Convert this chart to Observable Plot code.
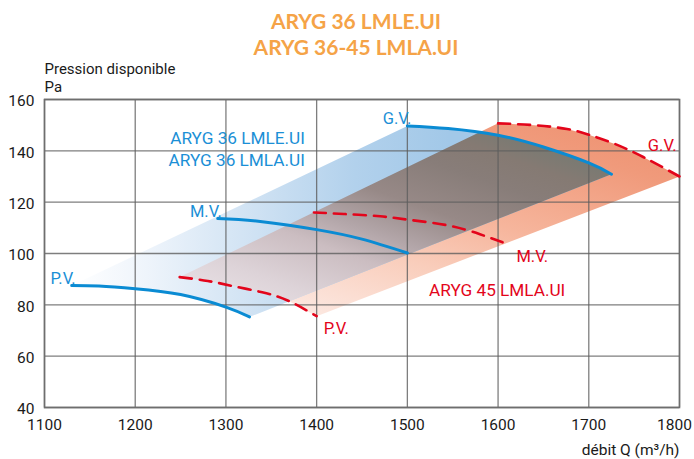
<!DOCTYPE html>
<html>
<head>
<meta charset="utf-8">
<script src="https://cdn.jsdelivr.net/npm/d3@7"></script>
<script src="https://cdn.jsdelivr.net/npm/@observablehq/plot@0.6"></script>
<style>
  html, body { margin: 0; padding: 0; background: #ffffff; }
  #chart svg { display: block; }
</style>
</head>
<body>
<div id="chart"></div>
<script>
// ---- tick values ----
const xTicks = [1100, 1200, 1300, 1400, 1500, 1600, 1700, 1800];
const yTicks = [40, 60, 80, 100, 120, 140, 160];

// ---- ARYG 36 LMLE.UI / ARYG 36 LMLA.UI (blue, solid) [débit m3/h, pression Pa] ----
const bluePV = [[1130, 87.5], [1160, 87.3], [1200, 86.3], [1250, 84.0], [1300, 79.1], [1326, 75.3]];
const blueMV = [[1291, 113.6], [1340, 112.4], [1400, 109.3], [1450, 105.6], [1500, 100.2]];
const blueGV = [[1500, 149.7], [1545, 148.7], [1600, 146.1], [1650, 141.5], [1700, 135.3], [1725, 130.9]];

// ---- ARYG 45 LMLA.UI (red, dashed) ----
const redPV = [[1249, 90.8], [1280, 89.3], [1309, 87.2], [1340, 84.9], [1368, 81.7], [1400, 75.6]];
const redMV = [[1397, 116.0], [1430, 115.4], [1470, 114.5], [1500, 113.2], [1544, 111.0], [1580, 107.5], [1607, 104.1]];
const redGV = [[1600, 150.7], [1640, 150.0], [1676, 148.5], [1700, 146.3], [1728, 142.8], [1760, 137.6], [1800, 130.0]];

// ---- texts ----
const titleLines = ["ARYG 36 LMLE.UI", "ARYG 36-45 LMLA.UI"];
const yLabelLines = ["Pression disponible", "Pa"];
const xLabel = "débit Q (m³/h)";
const speedNames = ["P.V.", "M.V.", "G.V."];
const blueModelNames = ["ARYG 36 LMLE.UI", "ARYG 36 LMLA.UI"];
const blueModelX = [1387, 1387];
const blueModelY = [142.8, 134.0];
const redModelNames = ["ARYG 45 LMLA.UI"];
const redModelX = [1599];
const redModelY = [83.3];

const pts = (a) => a.map(([x, y]) => ({x, y}));
const bluePoly = pts([...blueGV, ...bluePV.slice().reverse()]);
const redPoly = pts([...redGV, ...redPV.slice().reverse()]);

const BLUE = "#0a8bd3";
const BLUE_TXT = "#1b8fd6";
const RED = "#e3051b";
const ORANGE = "#f5a347";
const SANS = "Roboto, 'Noto Sans', sans-serif";

const blueStarts = [bluePV[0], blueMV[0], blueGV[0]].map(([x, y], i) => ({x, y, t: speedNames[i]}));
const redPVEnd = [{x: redPV.at(-1)[0], y: redPV.at(-1)[1], t: speedNames[0]}];
const redMVEnd = [{x: redMV.at(-1)[0], y: redMV.at(-1)[1], t: speedNames[1]}];
const redGVEnd = [{x: redGV.at(-1)[0], y: redGV.at(-1)[1], t: speedNames[2]}];

const tickStyle = {tickSize: 0, tickFormat: (d) => String(d), label: null, fontFamily: SANS, fontSize: 15.5, fill: "#1a1a1a"};

const svg = Plot.plot({
  width: 694,
  height: 459,
  marginLeft: 44,
  marginRight: 15,
  marginTop: 99,
  marginBottom: 52,
  x: {domain: [1100, 1800]},
  y: {domain: [40, 160]},
  style: {fontFamily: SANS, fontSize: "16px", color: "#1a1a1a", background: "#ffffff", overflow: "visible"},
  marks: [
    // zones
    Plot.line(redPoly, {x: "x", y: "y", fill: "url(#redGrad)", stroke: "none"}),
    Plot.line(bluePoly, {x: "x", y: "y", fill: "url(#blueGrad)", stroke: "none"}),
    Plot.line(bluePoly, {x: "x", y: "y", fill: "url(#overlapGrad)", stroke: "none"}),
    // grid
    Plot.gridX(xTicks, {stroke: "#5e5e5e", strokeOpacity: 0.8, strokeWidth: 1.3}),
    Plot.gridY(yTicks, {stroke: "#5e5e5e", strokeOpacity: 0.8, strokeWidth: 1.3}),
    Plot.frame({stroke: "#6e6e6e", strokeWidth: 1.6}),
    // axes
    Plot.axisX(xTicks.slice(0, -1), {...tickStyle, tickPadding: 11}),
    Plot.axisX(xTicks.slice(-1), {...tickStyle, tickPadding: 11, dx: -5}),
    Plot.axisY(yTicks, {...tickStyle, tickPadding: 10, dy: 2}),
    // red dashed curves
    ...[redPV, redMV, redGV].map((c) => Plot.line(pts(c), {x: "x", y: "y", stroke: RED, strokeWidth: 2.6, strokeDasharray: "12,8", curve: "natural"})),
    // blue curves
    ...[bluePV, blueMV, blueGV].map((c) => Plot.line(pts(c), {x: "x", y: "y", stroke: BLUE, strokeWidth: 3, curve: "natural"})),
    // curve labels
    Plot.text(blueStarts, {x: "x", y: "y", text: "t", textAnchor: "end", lineAnchor: "bottom", dx: 4, dy: -2, fill: BLUE_TXT, fontSize: 16.5, fontFamily: SANS}),
    Plot.text(redPVEnd, {x: "x", y: "y", text: "t", textAnchor: "start", lineAnchor: "bottom", dx: 7, dy: 18, fill: RED, fontSize: 16.5, fontFamily: SANS}),
    Plot.text(redMVEnd, {x: "x", y: "y", text: "t", textAnchor: "start", lineAnchor: "bottom", dx: 12, dy: 19, fill: RED, fontSize: 16.5, fontFamily: SANS}),
    Plot.text(redGVEnd, {x: "x", y: "y", text: "t", textAnchor: "end", lineAnchor: "bottom", dx: -3, dy: -26, fill: RED, fontSize: 16.5, fontFamily: SANS}),
    // model labels
    Plot.text(blueModelNames, {x: (d, i) => blueModelX[i], y: (d, i) => blueModelY[i], text: (d) => d, textAnchor: "end", lineAnchor: "bottom", fill: BLUE_TXT, fontSize: 17.2, fontFamily: SANS}),
    Plot.text(redModelNames, {x: (d, i) => redModelX[i], y: (d, i) => redModelY[i], text: (d) => d, textAnchor: "middle", lineAnchor: "bottom", fill: RED, fontSize: 17.2, fontFamily: SANS}),
    // title
    Plot.text([titleLines.join("\n")], {frameAnchor: "top", text: (d) => d, lineAnchor: "bottom", lineHeight: 1.24, dx: -6, dy: -44.5, fill: ORANGE, fontSize: 21, fontWeight: "bold", fontFamily: "Lato, 'Liberation Sans', sans-serif"}),
    // y label
    Plot.text([yLabelLines.join("\n")], {frameAnchor: "top-left", text: (d) => d, textAnchor: "start", lineAnchor: "bottom", lineHeight: 1.15, dy: -8, fill: "#1a1a1a", fontSize: 15, fontFamily: SANS}),
    // x label
    Plot.text([xLabel], {frameAnchor: "bottom-right", text: (d) => d, textAnchor: "end", lineAnchor: "bottom", dy: 47, fill: "#1a1a1a", fontSize: 15.5, fontFamily: SANS})
  ]
});

// gradients + overlap clip
const NS = "http://www.w3.org/2000/svg";
const defs = document.createElementNS(NS, "defs");
defs.innerHTML = `
<linearGradient id="blueGrad" x1="0" y1="0.5" x2="0.7" y2="0.5">
  <stop offset="0" stop-color="#ffffff"/>
  <stop offset="0.2" stop-color="#eef4fb"/>
  <stop offset="0.45" stop-color="#d3e4f4"/>
  <stop offset="0.75" stop-color="#b2d1ec"/>
  <stop offset="1" stop-color="#a2c8e8"/>
</linearGradient>
<linearGradient id="redGrad" x1="0" y1="1" x2="0.8" y2="0">
  <stop offset="0" stop-color="#fff6f2"/>
  <stop offset="0.15" stop-color="#fce6de"/>
  <stop offset="0.4" stop-color="#f9cdbb"/>
  <stop offset="0.6" stop-color="#f6b59c"/>
  <stop offset="0.9" stop-color="#f09a7b"/>
  <stop offset="1" stop-color="#ef9474"/>
</linearGradient>
<linearGradient id="overlapGrad" x1="0.2" y1="1" x2="1" y2="0.2">
  <stop offset="0" stop-color="#f0eaee"/>
  <stop offset="0.23" stop-color="#ddd3d8"/>
  <stop offset="0.4" stop-color="#cbbdc1"/>
  <stop offset="0.5" stop-color="#b3a6a9"/>
  <stop offset="0.64" stop-color="#978987"/>
  <stop offset="0.8" stop-color="#887d79"/>
  <stop offset="0.9" stop-color="#857a73"/>
  <stop offset="1" stop-color="#767a72"/>
</linearGradient>`;
svg.insertBefore(defs, svg.firstChild);

function pathOf(fill) {
  const el = svg.querySelector(`[fill="${fill}"]`);
  if (!el) return null;
  return el.tagName.toLowerCase() === "path" ? el : el.querySelector("path");
}
const redPath = pathOf("url(#redGrad)");
const overlapPath = pathOf("url(#overlapGrad)");
if (redPath && overlapPath) {
  const clip = document.createElementNS(NS, "clipPath");
  clip.setAttribute("id", "redClip");
  const cp = document.createElementNS(NS, "path");
  cp.setAttribute("d", redPath.getAttribute("d"));
  clip.appendChild(cp);
  defs.appendChild(clip);
  overlapPath.setAttribute("clip-path", "url(#redClip)");
}

document.getElementById("chart").appendChild(svg);
</script>
</body>
</html>
